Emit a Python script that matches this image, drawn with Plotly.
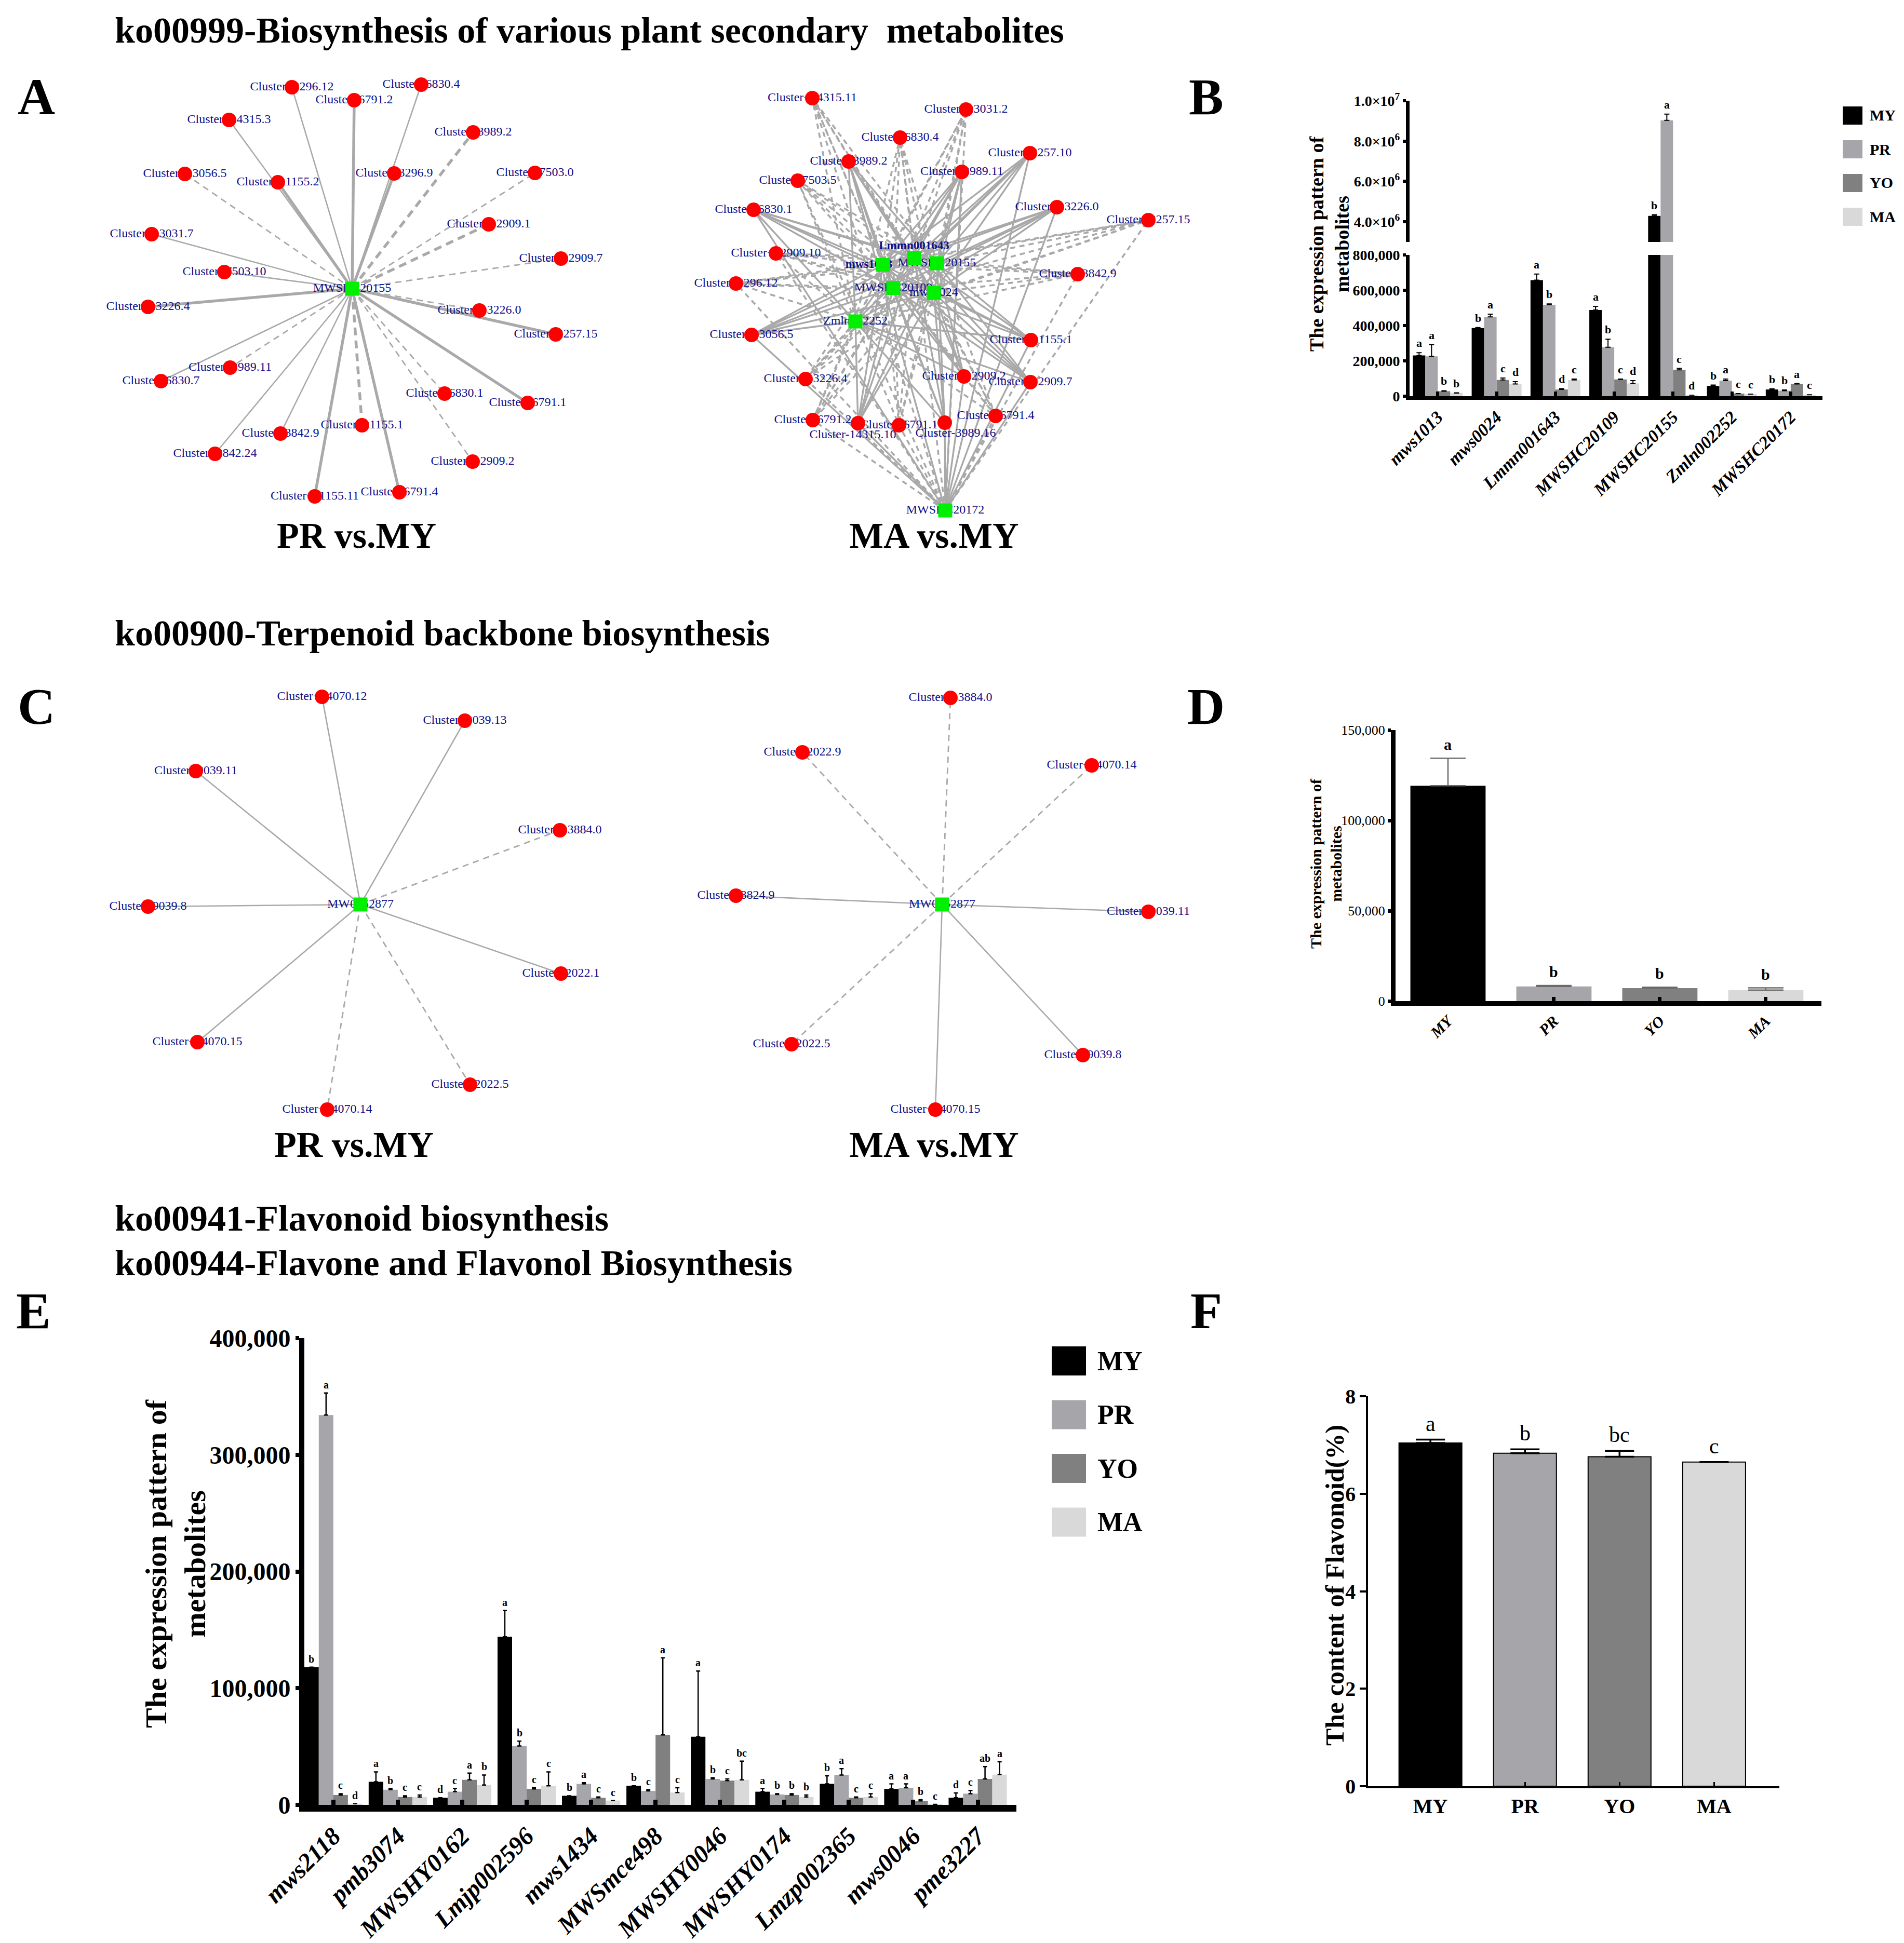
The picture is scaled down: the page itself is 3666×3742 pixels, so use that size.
import plotly.graph_objects as go

W, H = 3666, 3742
SERIF = "Liberation Serif"
NAVY = "#10108a"
EDGE_C = "#a9a9a9"
RED = "#ff0000"
GREEN = "#00f000"

SERIES = ["MY", "PR", "YO", "MA"]
COLORS = ["#000000", "#a6a6aa", "#808080", "#d9d9d9"]

# ---------------- Network A left (PR vs. MY), node layout ----------------
A1_hub = "MWSHC20155"
A1_hub_x, A1_hub_y = 670, 548
A1_names = ["Cluster−3296.12", "Cluster−6791.2", "Cluster−6830.4", "Cluster−14315.3", "Cluster−3989.2",
            "Cluster−13056.5", "Cluster−11155.2", "Cluster−3296.9", "Cluster−7503.0", "Cluster−12909.1",
            "Cluster−13031.7", "Cluster−12909.7", "Cluster−7503.10", "Cluster−13226.4", "Cluster−13226.0",
            "Cluster−2257.15", "Cluster−3989.11", "Cluster−6830.7", "Cluster−6830.1", "Cluster−6791.1",
            "Cluster−11155.1", "Cluster−3842.9", "Cluster−3842.24", "Cluster−12909.2", "Cluster−11155.11",
            "Cluster−6791.4"]
A1_x = [554, 674, 803, 433, 903, 348, 527, 751, 1022, 933, 284, 1072, 424, 277, 915, 1062, 435, 302, 848,
        1008, 689, 532, 406, 902, 598, 761]
A1_y = [160, 185, 155, 223, 247, 327, 343, 326, 325, 424, 443, 490, 516, 583, 590, 636, 700, 726, 750, 768,
        811, 827, 866, 881, 948, 940]
A1_type = ["s", "S", "s", "s", "D", "d", "S", "S", "d", "D", "s", "d", "s", "S", "d", "S", "d", "s", "d", "S",
           "D", "s", "s", "d", "S", "S"]

# ---------------- Network A right (MA vs. MY) ----------------
A2_hubs = ["Lmmn001643", "MWSHC20155", "mws1013", "MWSHC20109", "mws0024", "Zmln002252", "MWSHC20172"]
A2_hub_x = [1752, 1796, 1692, 1712, 1790, 1639, 1812]
A2_hub_y = [489, 499, 502, 547, 556, 611, 975]
A2_hub_bold = [True, False, True, False, False, False, False]
A2_names = ["Cluster−14315.11", "Cluster−13031.2", "Cluster−6830.4", "Cluster−2257.10", "Cluster−3989.2",
            "Cluster−3989.11", "Cluster−7503.5", "Cluster−6830.1", "Cluster−13226.0", "Cluster−2257.15",
            "Cluster−12909.10", "Cluster−3296.12", "Cluster−3842.9", "Cluster−13056.5", "Cluster−11155.1",
            "Cluster−13226.4", "Cluster−12909.2", "Cluster−12909.7", "Cluster−6791.4", "Cluster−6791.2",
            "Cluster-14315.10", "Cluster−6791.1", "Cluster-3989.16"]
A2_x = [1556, 1852, 1725, 1975, 1626, 1844, 1528, 1443, 2027, 2203, 1486, 1409, 2067, 1439, 1977, 1543,
        1848, 1976, 1909, 1557, 1644, 1723, 1811]
A2_y = [181, 203, 257, 287, 303, 323, 340, 396, 391, 416, 480, 538, 520, 637, 647, 722, 717, 728, 793, 801,
        807, 811, 806]
A2_type = ["d", "d", "d", "s", "S", "s", "d", "s", "s", "d", "d", "d", "d", "s", "s", "d", "s", "s", "d", "d",
           "s", "d", "s"]

# ---------------- Network C left / right ----------------
C_hub = "MW0052877"
C1_hub_x, C1_hub_y = 686, 1734
C1_names = ["Cluster−14070.12", "Cluster−9039.13", "Cluster−9039.11", "Cluster−13884.0", "Cluster−9039.8",
            "Cluster−2022.1", "Cluster−14070.15", "Cluster−2022.5", "Cluster−14070.14"]
C1_x = [612, 887, 369, 1070, 277, 1072, 372, 897, 622]
C1_y = [1334, 1380, 1477, 1591, 1738, 1867, 1999, 2081, 2129]
C1_type = ["s", "s", "s", "d", "s", "s", "s", "d", "d"]

C2_hub_x, C2_hub_y = 1806, 1734
C2_names = ["Cluster−13884.0", "Cluster−2022.9", "Cluster−14070.14", "Cluster−8824.9", "Cluster−9039.11",
            "Cluster−2022.5", "Cluster−9039.8", "Cluster−14070.15"]
C2_x = [1822, 1537, 2094, 1409, 2203, 1516, 2077, 1793]
C2_y = [1336, 1441, 1466, 1717, 1748, 2003, 2024, 2129]
C2_type = ["d", "d", "d", "s", "s", "d", "s", "s"]

# ---------------- Panel B ----------------
B_cats = ["mws1013", "mws0024", "Lmmn001643", "MWSHC20109", "MWSHC20155", "Zmln002252", "MWSHC20172"]
B_vals = [
    [231000, 386000, 657000, 488000, 4290000, 58000, 38000],
    [226000, 449000, 518000, 277000, 9030000, 88000, 31000],
    [28000, 92000, 38000, 95000, 149000, 15000, 69000],
    [18000, 69000, 92000, 72000, 5000, 12000, 8000],
]
B_err = [
    [15000, 3000, 35000, 20000, 60000, 5000, 4000],
    [66000, 16000, 5000, 46000, 310000, 9000, 4000],
    [3000, 11000, 5000, 2000, 8000, 0, 3000],
    [1000, 13000, 5000, 16000, 0, 0, 0],
]
B_let = [
    ["a", "b", "a", "a", "b", "b", "b"],
    ["a", "a", "b", "b", "a", "a", "b"],
    ["b", "c", "d", "c", "c", "c", "a"],
    ["b", "d", "c", "d", "d", "c", "c"],
]
B_low_ticks = [0, 200000, 400000, 600000, 800000]
B_low_text = ["0", "200,000", "400,000", "600,000", "800,000"]
B_up_ticks = [4000000, 6000000, 8000000, 10000000]
B_up_text = ["4.0×10<sup>6</sup>", "6.0×10<sup>6</sup>", "8.0×10<sup>6</sup>", "1.0×10<sup>7</sup>"]

# ---------------- Panel D ----------------
D_cats = ["MY", "PR", "YO", "MA"]
D_vals = [119200, 8100, 7150, 6100]
D_err = [15200, 550, 550, 1200]
D_let = ["a", "b", "b", "b"]
D_ticks = [0, 50000, 100000, 150000]
D_text = ["0", "50,000", "100,000", "150,000"]

# ---------------- Panel E ----------------
E_cats = ["mws2118", "pmb3074", "MWSHY0162", "Lmjp002596", "mws1434", "MWSmce498", "MWSHY0046",
          "MWSHY0174", "Lmzp002365", "mws0046", "pme3227"]
E_vals = [
    [118000, 19800, 6100, 144000, 7800, 16400, 58400, 11300, 18000, 13700, 6100],
    [334000, 13000, 11300, 50500, 18000, 12000, 22200, 8900, 25600, 14700, 9600],
    [8500, 6800, 21500, 13700, 6100, 60000, 20800, 8500, 6100, 3400, 22200],
    [1000, 6800, 17000, 16400, 3700, 10600, 21500, 6800, 6800, 500, 25900],
]
E_err = [
    [0, 8500, 0, 22500, 0, 0, 56300, 2700, 6900, 4300, 4100],
    [19000, 1000, 2700, 4100, 1000, 1000, 1000, 700, 5400, 3300, 2700],
    [1100, 1000, 5800, 1000, 700, 66000, 1400, 1100, 700, 1000, 10600],
    [0, 1700, 8600, 11900, 0, 4100, 16000, 1700, 2800, 0, 11000],
]
E_let = [
    ["b", "a", "d", "a", "b", "b", "a", "a", "b", "a", "d"],
    ["a", "b", "c", "b", "a", "c", "b", "b", "a", "a", "c"],
    ["c", "c", "a", "c", "c", "a", "c", "b", "c", "b", "ab"],
    ["d", "c", "b", "c", "c", "c", "bc", "b", "c", "c", "a"],
]
E_ticks = [0, 100000, 200000, 300000, 400000]
E_text = ["0", "100,000", "200,000", "300,000", "400,000"]

# ---------------- Panel F ----------------
F_cats = ["MY", "PR", "YO", "MA"]
F_vals = [7.04, 6.83, 6.76, 6.65]
F_err = [0.07, 0.08, 0.12, 0.0]
F_let = ["a", "b", "bc", "c"]
F_ticks = [0, 2, 4, 6, 8]


def px(x):
    return x / W


def py(y):
    return 1 - y / H


fig = go.Figure()
ann = []
shapes = []


def note(text, x, y, size, bold=True, italic=False, xanchor="center", yanchor="middle", angle=0,
         color="black", xref="paper", yref="paper", yshift=0):
    if xref == "paper":
        x = px(x)
    if yref == "paper":
        y = py(y)
    ann.append(dict(text=text, x=x, y=y, xref=xref, yref=yref, showarrow=False, xanchor=xanchor,
                    yanchor=yanchor, textangle=angle, yshift=yshift,
                    font=dict(family=SERIF, size=size, color=color,
                              weight="bold" if bold else "normal",
                              style="italic" if italic else "normal")))


# ================= networks =================
EDGE_STYLE = {"s": (2.6, "solid"), "S": (5.5, "solid"), "d": (2.8, "12px,9px"), "D": (5.5, "15px,10px"),
              "s2": (3.4, "solid"), "d2": (3.6, "10px,8px")}
seg = {k: ([], []) for k in EDGE_STYLE}


def edge(x0, y0, x1, y1, t):
    seg[t][0].extend([x0, x1, None])
    seg[t][1].extend([y0, y1, None])


for x, y, t in zip(A1_x, A1_y, A1_type):
    edge(A1_hub_x, A1_hub_y, x, y, t)
for x, y, t in zip(A2_x, A2_y, A2_type):
    for hx, hy in zip(A2_hub_x, A2_hub_y):
        edge(hx, hy, x, y, "d2" if t == "d" else "s2")
for x, y, t in zip(C1_x, C1_y, C1_type):
    edge(C1_hub_x, C1_hub_y, x, y, t)
for x, y, t in zip(C2_x, C2_y, C2_type):
    edge(C2_hub_x, C2_hub_y, x, y, t)

for k, (w, d) in EDGE_STYLE.items():
    fig.add_trace(go.Scatter(x=seg[k][0], y=seg[k][1], mode="lines", xaxis="x", yaxis="y",
                             line=dict(color=EDGE_C, width=w, dash=d), hoverinfo="skip"))

# labels (drawn under the node markers)
lab_shift = {"Cluster-14315.10": (-10, 23), "Cluster-3989.16": (21, 21)}
cl_names = A1_names + A2_names + C1_names + C2_names
cl_x = A1_x + A2_x + C1_x + C2_x
cl_y = A1_y + A2_y + C1_y + C2_y
lab_x = [x + lab_shift.get(n, (0, 0))[0] for n, x in zip(cl_names, cl_x)]
lab_y = [y + lab_shift.get(n, (0, 0))[1] for n, y in zip(cl_names, cl_y)]
hub_names = [A1_hub] + [n for n, b in zip(A2_hubs, A2_hub_bold) if not b] + [C_hub, C_hub]
hub_x = [A1_hub_x] + [x for x, b in zip(A2_hub_x, A2_hub_bold) if not b] + [C1_hub_x, C2_hub_x]
hub_y = [A1_hub_y] + [y for y, b in zip(A2_hub_y, A2_hub_bold) if not b] + [C1_hub_y, C2_hub_y]

fig.add_trace(go.Scatter(x=lab_x + hub_x, y=lab_y + hub_y, mode="text", text=cl_names + hub_names,
                         textposition="middle center", xaxis="x", yaxis="y", hoverinfo="skip",
                         textfont=dict(family=SERIF, size=24, color=NAVY)))
bold_shift = {"Lmmn001643": (0, -23), "mws1013": (-27, 0)}
bn = [n for n, b in zip(A2_hubs, A2_hub_bold) if b]
bx = [x + bold_shift[n][0] for n, x, b in zip(A2_hubs, A2_hub_x, A2_hub_bold) if b]
by = [y + bold_shift[n][1] for n, y, b in zip(A2_hubs, A2_hub_y, A2_hub_bold) if b]
fig.add_trace(go.Scatter(x=bx, y=by, mode="text", text=bn, textposition="middle center",
                         xaxis="x", yaxis="y", hoverinfo="skip",
                         textfont=dict(family=SERIF, size=23, color=NAVY, weight="bold")))

fig.add_trace(go.Scatter(x=cl_x, y=cl_y, mode="markers", xaxis="x", yaxis="y", hoverinfo="skip",
                         marker=dict(size=28, color=RED, line=dict(width=0))))
fig.add_trace(go.Scatter(x=[A1_hub_x] + A2_hub_x + [C1_hub_x, C2_hub_x],
                         y=[A1_hub_y] + A2_hub_y + [C1_hub_y, C2_hub_y],
                         mode="markers", xaxis="x", yaxis="y", hoverinfo="skip",
                         marker=dict(size=27, symbol="square", color=GREEN, line=dict(width=0))))


# ================= grouped bar helper =================
def grouped(cats, vals, errs, xa, yas, width, ecol, ethick, ewidth, line_w=0):
    n = len(cats)
    for k in range(4):
        off = (k - 1.5) * width
        for ya in yas:
            fig.add_trace(go.Bar(
                x=[i + off for i in range(n)], y=vals[k], width=width, xaxis=xa, yaxis=ya,
                marker=dict(color=COLORS[k], line=dict(width=line_w, color="black")),
                error_y=dict(type="data", symmetric=False, array=errs[k], arrayminus=[0] * n,
                             color=ecol, thickness=ethick, width=ewidth, visible=True),
                hoverinfo="skip"))


# Panel B (broken axis: y2 lower, y3 upper)
BW = 0.212
grouped(B_cats, B_vals, B_err, "x2", ["y2", "y3"], BW, "black", 2, 5)
for k in range(4):
    for i in range(len(B_cats)):
        top = B_vals[k][i] + B_err[k][i]
        note(B_let[k][i], i + (k - 1.5) * BW, top, 22, xref="x2",
             yref="y3" if top > 800000 else "y2", yanchor="bottom", yshift=4)

# Panel D
fig.add_trace(go.Bar(x=list(range(4)), y=D_vals, width=0.71, xaxis="x4", yaxis="y4",
                     marker=dict(color=COLORS, line=dict(width=0)),
                     error_y=dict(type="data", symmetric=False, array=D_err, arrayminus=[0] * 4,
                                  color="#6a6a6a", thickness=2.5, width=34), hoverinfo="skip"))
for i in range(4):
    note(D_let[i], i, D_vals[i] + D_err[i], 30, xref="x4", yref="y4", yanchor="bottom", yshift=8)

# Panel E
EW = 0.226
grouped(E_cats, E_vals, E_err, "x5", ["y5"], EW, "black", 2.5, 4)
for k in range(4):
    for i in range(len(E_cats)):
        note(E_let[k][i], i + (k - 1.5) * EW, E_vals[k][i] + E_err[k][i], 20, xref="x5", yref="y5",
             yanchor="bottom", yshift=3)

# Panel F
fig.add_trace(go.Bar(x=list(range(4)), y=F_vals, width=0.665, xaxis="x6", yaxis="y6",
                     marker=dict(color=COLORS, line=dict(width=2, color="black")),
                     error_y=dict(type="data", symmetric=False, array=F_err, arrayminus=[0] * 4,
                                  color="black", thickness=3.5, width=28), hoverinfo="skip"))
for i in range(4):
    note(F_let[i], i, F_vals[i] + F_err[i], 42, bold=False, xref="x6", yref="y6", yanchor="bottom",
         yshift=6)

# ================= legends (B and E) =================
for k, s in enumerate(SERIES):
    y0 = 197 + k * 65
    shapes.append(dict(type="rect", xref="paper", yref="paper", x0=px(3540), x1=px(3578),
                       y0=py(y0 + 35), y1=py(y0), fillcolor=COLORS[k], line=dict(width=0)))
    note(s, 3590, y0 + 17, 30, xanchor="left")
    y0 = 2585 + k * 103.5
    shapes.append(dict(type="rect", xref="paper", yref="paper", x0=px(2017), x1=px(2083),
                       y0=py(y0 + 56), y1=py(y0), fillcolor=COLORS[k], line=dict(width=0)))
    note(s, 2103, y0 + 28, 52, xanchor="left")

# ================= titles & labels =================
note("ko00999-Biosynthesis of various plant secondary \u00a0metabolites", 211, 50, 70, xanchor="left")
note("ko00900-Terpenoid backbone biosynthesis", 211, 1212, 70, xanchor="left")
note("ko00941-Flavonoid biosynthesis", 211, 2338, 70, xanchor="left")
note("ko00944-Flavone and Flavonol Biosynthesis", 211, 2424, 70, xanchor="left")
for t, x, y in [("A", 62, 178), ("B", 2314, 178), ("C", 62, 1352), ("D", 2314, 1352), ("E", 56, 2516),
                ("F", 2314, 2516)]:
    note(t, x, y, 100)
for t, x, y in [("PR vs.MY", 678, 1023), ("MA vs.MY", 1790, 1023), ("PR vs.MY", 673, 2196),
                ("MA vs.MY", 1790, 2196)]:
    note(t, x, y, 70)

note("The expression pattern of<br>metabolites", 2552, 462, 38, angle=-90)
note("The expression pattern of<br>metabolites", 2545, 1655, 30, angle=-90)
note("The expression pattern of<br>metabolites", 330, 3004, 58, angle=-90)
note("The content of Flavonoid(%)", 2562, 3045, 50, angle=-90)


# ================= axes =================
def bfont(size, italic=False, bold=True):
    return dict(family=SERIF, size=size, color="black", weight="bold" if bold else "normal",
                style="italic" if italic else "normal")


common = dict(showgrid=False, zeroline=False, showline=True, linecolor="black", tickcolor="black",
              autorange=False, fixedrange=True, automargin=False)

fig.update_layout(
    template="none",
    width=W, height=H, margin=dict(l=0, r=0, t=0, b=0, pad=0), autosize=False,
    paper_bgcolor="white", plot_bgcolor="rgba(0,0,0,0)", showlegend=False, barmode="overlay",
    xaxis=dict(domain=[0, 1], range=[0, W], visible=False, fixedrange=True, automargin=False),
    yaxis=dict(domain=[0, 1], range=[H, 0], visible=False, fixedrange=True, automargin=False),
    # B
    xaxis2=dict(domain=[px(2706), px(3501)], range=[-0.48, 6.54], anchor="y2", linewidth=7,
                ticks="inside", ticklen=9, tickwidth=6, tickvals=list(range(7)), ticktext=B_cats,
                tickangle=-45, tickfont=bfont(34, italic=True), **common),
    yaxis2=dict(domain=[py(755), py(483)], range=[0, 800000], anchor="x2", linewidth=7,
                ticks="outside", ticklen=6, tickwidth=6, tickvals=B_low_ticks, ticktext=B_low_text,
                tickfont=bfont(28), **common),
    yaxis3=dict(domain=[py(458), py(186)], range=[3000000, 10000000], anchor="x2", linewidth=7,
                ticks="outside", ticklen=6, tickwidth=6, tickvals=B_up_ticks, ticktext=B_up_text,
                tickfont=bfont(28), **common),
    # D
    xaxis4=dict(domain=[px(2679), px(3499)], range=[-0.495, 3.525], anchor="y4", linewidth=9,
                ticks="inside", ticklen=8, tickwidth=7, tickvals=list(range(4)), ticktext=D_cats,
                tickangle=-45, tickfont=bfont(30, italic=True), **common),
    yaxis4=dict(domain=[py(1920), py(1398)], range=[0, 150000], anchor="x4", linewidth=9,
                ticks="outside", ticklen=6, tickwidth=7, tickvals=D_ticks, ticktext=D_text,
                tickfont=bfont(26, bold=False), **common),
    # E
    xaxis5=dict(domain=[px(578), px(1949)], range=[-0.45, 10.6], anchor="y5", linewidth=13,
                ticks="inside", ticklen=10, tickwidth=8, tickvals=list(range(11)), ticktext=E_cats,
                tickangle=-45, tickfont=bfont(48, italic=True), **common),
    yaxis5=dict(domain=[py(3468), py(2569)], range=[0, 400000], anchor="x5", linewidth=10,
                ticks="outside", ticklen=7, tickwidth=8, tickvals=E_ticks, ticktext=E_text,
                tickfont=bfont(48), **common),
    # F
    xaxis6=dict(domain=[px(2626), px(3418)], range=[-0.66, 3.69], anchor="y6", linewidth=3.5,
                ticks="inside", ticklen=8, tickwidth=2.5, tickvals=list(range(4)), ticktext=F_cats,
                tickfont=bfont(40), **common),
    yaxis6=dict(domain=[py(3432), py(2681)], range=[0, 8], anchor="x6", linewidth=3.5,
                ticks="outside", ticklen=12, tickwidth=3.5, tickvals=F_ticks,
                tickfont=bfont(40), **common),
    annotations=ann, shapes=shapes,
)

fig.write_html("out.html")
